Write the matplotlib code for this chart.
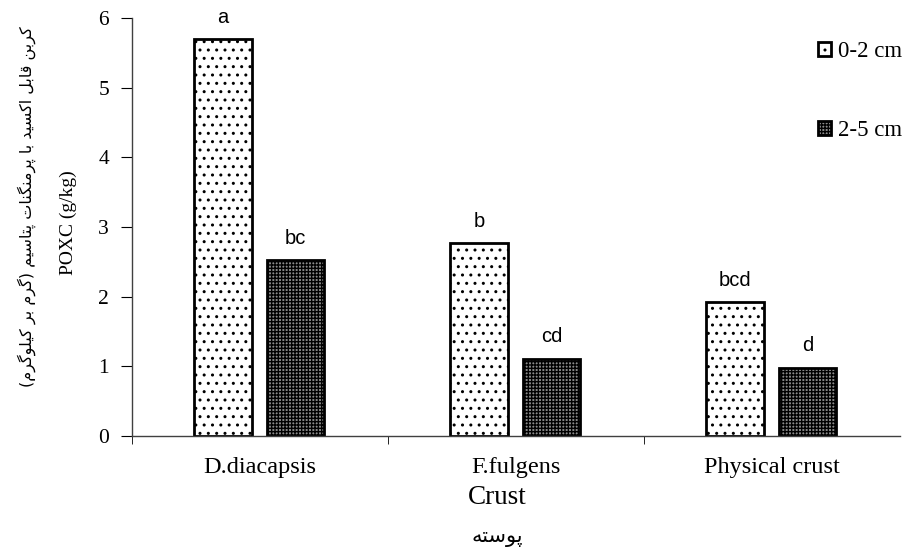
import numpy as np
import matplotlib.pyplot as plt

# data
crusts = ['D.diacapsis', 'F.fulgens', 'Physical crust']
depth_0_2 = [5.70, 2.77, 1.92]
depth_2_5 = [2.52, 1.11, 0.98]
letters_0_2 = ['a', 'b', 'bcd']
letters_2_5 = ['bc', 'cd', 'd']
yticks = [0, 1, 2, 3, 4, 5, 6]

ylabel_fa = 'کربن قابل اکسید با پرمنگنات پتاسیم (گرم بر کیلوگرم)'
xlabel_fa = 'پوسته'

# matplotlib has no arabic shaping, so do it by hand
# (isolated, final, initial, medial)
FORMS = {
  'ا': ('\uFE8D', '\uFE8E', None, None),
  'ب': ('\uFE8F', '\uFE90', '\uFE91', '\uFE92'),
  'ت': ('\uFE95', '\uFE96', '\uFE97', '\uFE98'),
  'د': ('\uFEA9', '\uFEAA', None, None),
  'ر': ('\uFEAD', '\uFEAE', None, None),
  'س': ('\uFEB1', '\uFEB2', '\uFEB3', '\uFEB4'),
  'ق': ('\uFED5', '\uFED6', '\uFED7', '\uFED8'),
  'ل': ('\uFEDD', '\uFEDE', '\uFEDF', '\uFEE0'),
  'م': ('\uFEE1', '\uFEE2', '\uFEE3', '\uFEE4'),
  'ن': ('\uFEE5', '\uFEE6', '\uFEE7', '\uFEE8'),
  'ه': ('\uFEE9', '\uFEEA', '\uFEEB', '\uFEEC'),
  'و': ('\uFEED', '\uFEEE', None, None),
  'پ': ('\uFB56', '\uFB57', '\uFB58', '\uFB59'),
  'ک': ('\uFB8E', '\uFB8F', '\uFB90', '\uFB91'),
  'گ': ('\uFB92', '\uFB93', '\uFB94', '\uFB95'),
  'ی': ('\uFBFC', '\uFBFD', '\uFBFE', '\uFBFF'),
}

def shape(s):
  out = []
  for i, ch in enumerate(s):
    if ch not in FORMS:
      out.append(ch)
      continue
    prev = s[i-1] if i > 0 else ''
    nxt = s[i+1] if i < len(s) - 1 else ''
    dual = FORMS[ch][2] is not None
    pj = prev in FORMS and FORMS[prev][2] is not None
    nj = dual and nxt in FORMS
    if pj and nj:
      out.append(FORMS[ch][3])
    elif pj:
      out.append(FORMS[ch][1])
    elif nj:
      out.append(FORMS[ch][2])
    else:
      out.append(FORMS[ch][0])
  vis = ''.join(reversed(out))
  return vis.translate(str.maketrans('()', ')('))

serif = 'Liberation Serif'
sans = 'Liberation Sans'

fig = plt.figure(figsize=(9.04, 5.49), dpi=100)
ax = fig.add_axes([0.146, 0.206, 0.850, 0.761])

x = np.arange(len(crusts))
w = 0.225
b1 = ax.bar(x - 0.145, depth_0_2, w, color='white', edgecolor='black',
            linewidth=2, hatch='..', label='0-2 cm')
b2 = ax.bar(x + 0.138, depth_2_5, w, color='#8a8a8a', edgecolor='black',
            linewidth=2, hatch='+++++', label='2-5 cm')

for bars, labs in ((b1, letters_0_2), (b2, letters_2_5)):
  for r, t in zip(bars, labs):
    ax.annotate(t, (r.get_x() + r.get_width() / 2, r.get_height()),
                xytext=(0, 9), textcoords='offset points', ha='center',
                va='bottom', fontsize=14.5, family=sans)

ax.set_xlim(-0.5, 2.5)
ax.set_ylim(0, 6)
ax.set_yticks(yticks)
ax.set_xticks(x)
ax.set_xticklabels(crusts, family=serif, fontsize=17.5)
ax.tick_params(axis='x', which='major', length=0, pad=15)
ax.set_xticks([-0.5, 0.5, 1.5], minor=True)
ax.tick_params(axis='x', which='minor', length=6, direction='out')
ax.tick_params(axis='y', length=8, direction='out', labelsize=15.5, pad=8.5)
for lab in ax.get_yticklabels():
  lab.set_family(serif)

for s in ('top', 'right'):
  ax.spines[s].set_visible(False)
for s in ('left', 'bottom'):
  ax.spines[s].set_color('#404040')
  ax.spines[s].set_linewidth(1)

ax.set_ylabel('POXC (g/kg)', family=serif, fontsize=14)
ax.yaxis.set_label_coords(-0.071, 0.51)
fig.text(0.030, 0.623, shape(ylabel_fa), rotation=90, ha='center', va='center',
         fontsize=11.5, family='DejaVu Sans')
fig.text(0.550, 0.094, 'Crust', ha='center', va='center', family=serif, fontsize=19.5)
fig.text(0.550, 0.022, shape(xlabel_fa), ha='center', va='center',
         fontsize=15, family='DejaVu Sans')

ax.legend(loc='upper right', bbox_to_anchor=(1.014, 0.966), frameon=False,
          borderaxespad=0, prop={'family': serif, 'size': 16.5},
          handlelength=0.55, handleheight=0.55, handletextpad=0.3,
          labelspacing=2.5)

fig.savefig('out.png', dpi=100)
